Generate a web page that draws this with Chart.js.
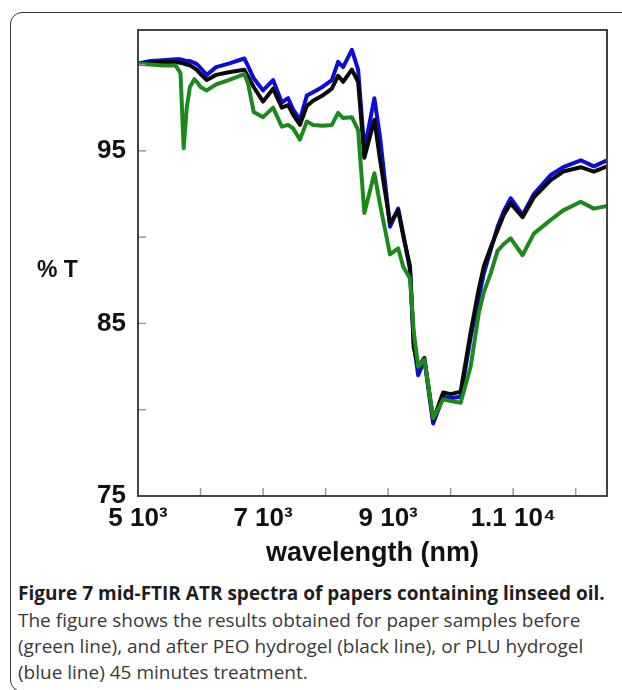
<!DOCTYPE html>
<html>
<head>
<meta charset="utf-8">
<script src="https://cdn.jsdelivr.net/npm/chart.js@4.4.1/dist/chart.umd.min.js"></script>
<style>
  html, body { margin: 0; padding: 0; background: #fff; width: 622px; height: 690px; overflow: hidden; }
  #frame { position: absolute; left: 10px; top: 12px; width: 700px; height: 680px; border: 1.5px solid #333; border-radius: 12px; box-sizing: border-box; }
  #wrap { position: absolute; left: 0; top: 0; width: 622px; height: 570px; }
  #ylab { position: absolute; left: 37px; top: 256px; font: bold 23px "Liberation Sans", Arial, sans-serif; color: #111; white-space: nowrap; }
  .cap { position: absolute; left: 18px; white-space: nowrap; font-family: "Open Sans", sans-serif; color: #3a3a3a; font-size: 19px; }
  #c1 { top: 580px; font-weight: bold; color: #1e1e1e; }
  #c2 { top: 607px; }
  #c3 { top: 633px; }
  #c4 { top: 659px; }
</style>
</head>
<body>
<div id="frame"></div>
<div id="wrap"><canvas id="chart" width="622" height="570"></canvas></div>
<div id="ylab">% T</div>
<div class="cap" id="c1">Figure 7 mid-FTIR ATR spectra of papers containing linseed oil.</div>
<div class="cap" id="c2">The figure shows the results obtained for paper samples before</div>
<div class="cap" id="c3">(green line), and after PEO hydrogel (black line), or PLU hydrogel</div>
<div class="cap" id="c4">(blue line) 45 minutes treatment.</div>
<script>
// wavelength (nm)
const wavelength = [5000, 5200, 5400, 5600, 5680, 5730, 5780, 5830, 5900, 5950, 6000, 6100, 6250, 6450, 6700, 6760, 6850, 7000, 7160, 7300, 7400, 7480, 7590, 7700, 7800, 7950, 8100, 8200, 8280, 8420, 8520, 8620, 8780, 8870, 9030, 9160, 9240, 9350, 9410, 9480, 9580, 9720, 9880, 10000, 10160, 10320, 10450, 10530, 10640, 10750, 10850, 10960, 11150, 11330, 11600, 11800, 12080, 12290, 12500];

// %T after PLU hydrogel (blue)
const pluBlue = [100.05, 100.2, 100.25, 100.3, 100.3, 100.25, 100.2, 100.2, 100.1, 100.0, 99.8, 99.4, 99.85, 100.05, 100.35, 99.9, 99.2, 98.5, 99.1, 97.8, 98.05, 97.4, 96.8, 98.2, 98.4, 98.7, 99.1, 100.15, 99.85, 100.85, 99.7, 95.05, 98.05, 95.8, 90.6, 91.65, 90.2, 88.1, 83.85, 82.0, 82.9, 79.2, 80.75, 80.66, 80.75, 84.2, 86.5, 87.9, 89.25, 90.6, 91.5, 92.25, 91.28, 92.5, 93.6, 94.05, 94.45, 94.1, 94.45];

// %T after PEO hydrogel (black)
const peoBlack = [100.05, 100.1, 100.15, 100.15, 100.1, 100.05, 100.0, 99.95, 99.8, 99.65, 99.45, 99.1, 99.4, 99.55, 99.7, 99.3, 98.7, 97.85, 98.6, 97.5, 97.65, 97.1, 96.5, 97.6, 97.9, 98.2, 98.6, 99.35, 99.0, 99.7, 99.0, 94.6, 96.8, 94.5, 90.8, 91.55, 90.1, 88.3, 83.6, 82.5, 83.0, 79.4, 81.0, 80.9, 81.05, 84.5, 87.0, 88.3, 89.4, 90.4, 91.3, 91.95, 91.15, 92.3, 93.3, 93.8, 94.05, 93.8, 94.1];

// %T before treatment (green)
const beforeGreen = [100.05, 100.0, 99.95, 99.95, 99.5, 95.15, 97.5, 98.7, 99.15, 98.95, 98.7, 98.5, 98.85, 99.1, 99.45, 98.9, 97.25, 96.95, 97.5, 96.4, 96.5, 96.3, 95.65, 96.7, 96.5, 96.45, 96.5, 97.2, 96.9, 96.95, 96.2, 91.4, 93.7, 91.9, 89.0, 89.35, 88.3, 87.6, 84.5, 82.5, 82.9, 79.5, 80.6, 80.5, 80.4, 82.5, 85.6, 86.8, 87.9, 89.2, 89.6, 89.93, 88.95, 90.2, 91.0, 91.55, 92.05, 91.65, 91.8];

const xTicks = [5000, 6000, 7000, 8000, 9000, 10000, 11000, 12000];
const yTicks = [75, 80, 85, 90, 95, 100];
const xTickLabels = { 5000: '5 10\u00B3', 7000: '7 10\u00B3', 9000: '9 10\u00B3', 11000: '1.1 10\u2074' };
const yTickLabels = { 75: '75', 85: '85', 95: '95' };

const toPts = (ys) => wavelength.map((x, i) => ({ x: x, y: ys[i] }));

const frameAndTicks = {
  id: 'frameAndTicks',
  afterDatasetsDraw(chart) {
    const ctx = chart.ctx;
    const a = chart.chartArea;
    const xs = chart.scales.x, ys = chart.scales.y;
    ctx.save();
    ctx.strokeStyle = '#9a9a9a';
    ctx.lineWidth = 1.5;
    xs.ticks.forEach(t => {
      const px = xs.getPixelForValue(t.value);
      if (px <= a.left + 1 || px >= a.right - 1) return;
      ctx.beginPath(); ctx.moveTo(px, a.bottom); ctx.lineTo(px, a.bottom - 8); ctx.stroke();
    });
    ys.ticks.forEach(t => {
      const py = ys.getPixelForValue(t.value);
      if (py >= a.bottom - 1 || py <= a.top + 1) return;
      ctx.beginPath(); ctx.moveTo(a.left, py); ctx.lineTo(a.left + 8, py); ctx.stroke();
    });
    ctx.strokeStyle = '#444';
    ctx.lineWidth = 2;
    ctx.strokeRect(a.left, a.top, a.right - a.left, a.bottom - a.top);
    ctx.restore();
  }
};

new Chart(document.getElementById('chart'), {
  type: 'line',
  data: {
    datasets: [
      { label: 'before', data: toPts(beforeGreen), borderColor: '#1b8a1b', borderWidth: 4 },
      { label: 'PEO', data: toPts(peoBlack), borderColor: '#0a0a0a', borderWidth: 4 },
      { label: 'PLU', data: toPts(pluBlue), borderColor: '#0c0cd6', borderWidth: 4 }
    ]
  },
  options: {
    responsive: false,
    animation: false,
    devicePixelRatio: 1,
    layout: { padding: { top: 30, right: 15, left: 0, bottom: 0 } },
    elements: { point: { radius: 0 }, line: { tension: 0, borderJoinStyle: 'round', borderCapStyle: 'round' } },
    plugins: { legend: { display: false }, tooltip: { enabled: false } },
    scales: {
      x: {
        type: 'linear', min: 5000, max: 12500,
        afterBuildTicks: (s) => { s.ticks = xTicks.map(v => ({ value: v })); },
        afterFit: (s) => { s.height = 74; },
        grid: { display: false, drawTicks: false },
        border: { display: false },
        ticks: {
          autoSkip: false, maxRotation: 0, padding: 7, color: '#111',
          font: { family: 'Liberation Sans', weight: 'bold', size: 26 },
          callback: (v) => xTickLabels[v] || ''
        },
        title: { display: true, text: 'wavelength (nm)', color: '#111', padding: { top: 0, bottom: 0 }, font: { family: 'Liberation Sans', weight: 'bold', size: 27 } }
      },
      y: {
        type: 'linear', min: 75, max: 102,
        afterBuildTicks: (s) => { s.ticks = yTicks.map(v => ({ value: v })); },
        afterFit: (s) => { s.width = 138; },
        grid: { display: false, drawTicks: false },
        border: { display: false },
        ticks: {
          autoSkip: false, padding: 12, color: '#111',
          font: { family: 'Liberation Sans', weight: 'bold', size: 26 },
          callback: (v) => yTickLabels[v] || ''
        }
      }
    }
  },
  plugins: [frameAndTicks]
});
</script>
</body>
</html>
